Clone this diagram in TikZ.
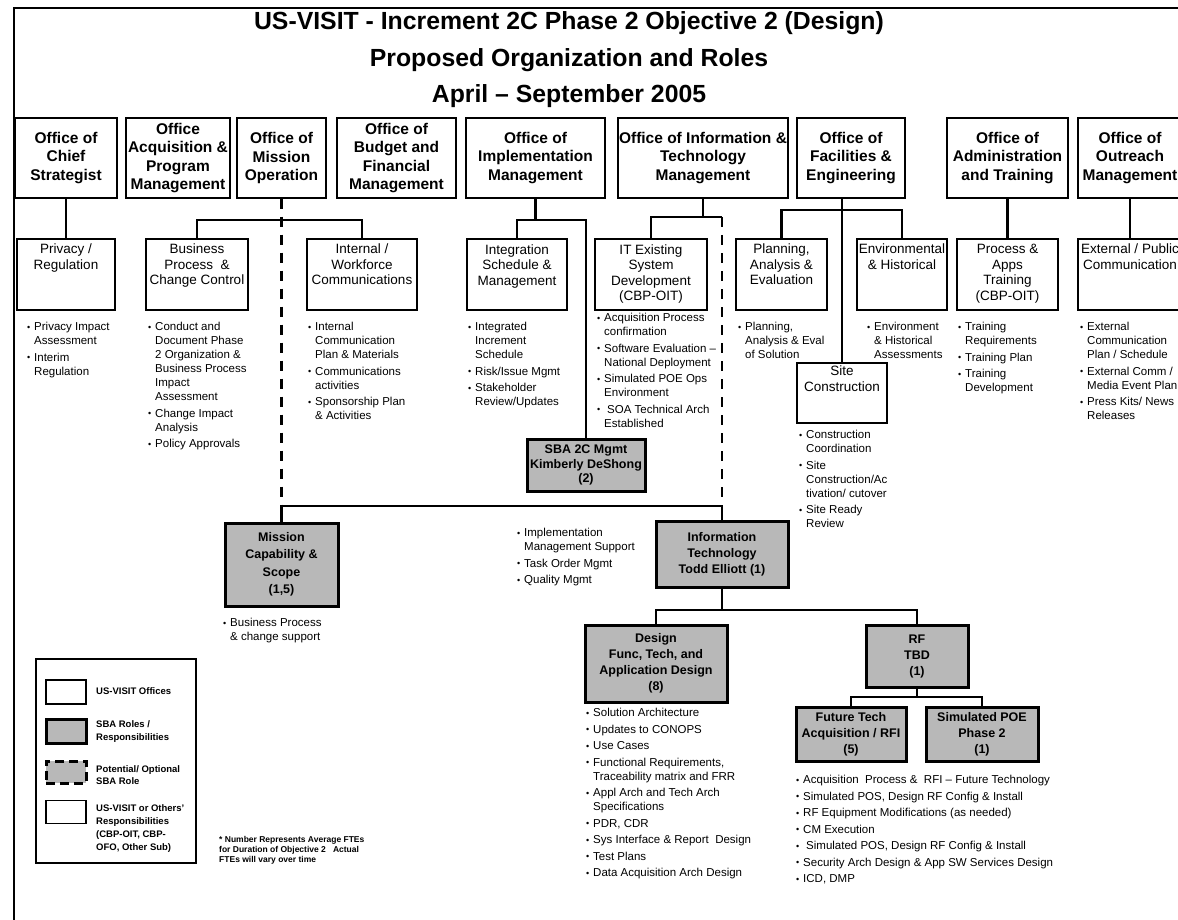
\documentclass[tikz,border=0pt]{standalone}
\usepackage{fontspec}
\setmainfont{Liberation Sans}
\newcommand\myb{\makebox[7pt][l]{\raisebox{0.4pt}{\fontsize{9}{9}\selectfont •}}}
\newcommand\myi{\hspace*{7pt}}
\begin{document}
\begin{tikzpicture}[x=1pt,y=-1pt,
 office/.style={draw, line width=1.3pt, inner sep=0pt, align=center, font=\fontsize{15.5}{18.5}\selectfont\bfseries},
 subbox/.style={draw, line width=2pt, inner sep=0pt},
 boxtext/.style={anchor=north, inner sep=0pt, align=center, font=\fontsize{13.5}{15.5}\selectfont},
 sba/.style={draw, line width=3pt, fill=black!28, inner sep=0pt, align=center, font=\fontsize{12.5}{16}\selectfont\bfseries},
 blist/.style={anchor=north west, inner sep=0pt, align=left, font=\fontsize{11.5}{14}\selectfont},
 legtext/.style={anchor=west, inner sep=0pt, align=left, font=\fontsize{9.5}{12.5}\selectfont\bfseries},
 conn/.style={line width=2.5pt},
 dashline/.style={line width=2.5pt, dash pattern=on 10pt off 8pt},
]
\path[use as bounding box] (0,0) rectangle (1178,920);
\clip (0,0) rectangle (1178,920);
\fill[white] (0,0) rectangle (1178,920);
% frame
\draw[line width=2pt] (14,925) -- (14,8) -- (1185,8);
% title
\node[font=\fontsize{24.8}{36.5}\selectfont\bfseries, align=center, inner sep=0pt] (title) at (569,60) {US-VISIT - Increment 2C Phase 2 Objective 2 (Design)\\Proposed Organization and Roles\\April – September 2005};

% offices
\node[office, minimum width=102pt, minimum height=80pt] (chief) at (66,158) {Office of\\Chief\\Strategist};
\node[office, minimum width=104pt, minimum height=80pt] (acq) at (178,158) {Office\\Acquisition \&\\Program\\Management};
\node[office, minimum width=89pt, minimum height=80pt] (mission) at (281.5,158) {Office of\\Mission\\Operation};
\node[office, minimum width=119pt, minimum height=80pt] (budget) at (396.5,158) {Office of\\Budget and\\Financial\\Management};
\node[office, minimum width=139pt, minimum height=80pt] (impl) at (535.5,158) {Office of\\Implementation\\Management};
\node[office, minimum width=170pt, minimum height=80pt] (infotech) at (703,158) {Office of Information \&\\Technology\\Management};
\node[office, minimum width=108pt, minimum height=80pt] (facil) at (851,158) {Office of\\Facilities \&\\Engineering};
\node[office, minimum width=121pt, minimum height=80pt] (admin) at (1007.5,158) {Office of\\Administration\\and Training};
\node[office, minimum width=104pt, minimum height=80pt] (outreach) at (1130,158) {Office of\\Outreach\\Management};

% second level boxes
\node[subbox, minimum width=98pt, minimum height=71pt] (privacy) at (66,274.5) {};
\node[boxtext] (privacyt) at ([yshift=-6pt]privacy.north) {Privacy /\\Regulation};
\node[subbox, minimum width=102pt, minimum height=71pt] (bp) at (197,274.5) {};
\node[boxtext] (bpt) at ([yshift=-6pt]bp.north) {Business\\Process\ \ \&\\Change Control};
\node[subbox, minimum width=110pt, minimum height=71pt] (internal) at (362,274.5) {};
\node[boxtext] (internalt) at ([yshift=-6pt]internal.north) {Internal /\\Workforce\\Communications};
\node[subbox, minimum width=100pt, minimum height=70pt] (integ) at (517,274.5) {};
\node[boxtext] (integt) at ([yshift=-6pt]integ.north) {Integration\\Schedule \&\\Management};
\node[subbox, minimum width=112pt, minimum height=70pt] (itexist) at (651,274.5) {};
\node[boxtext] (itexistt) at ([yshift=-6pt]itexist.north) {IT Existing\\System\\Development\\(CBP-OIT)};
\node[subbox, minimum width=91pt, minimum height=71pt] (planning) at (781.5,274.5) {};
\node[boxtext] (planningt) at ([yshift=-6pt]planning.north) {Planning,\\Analysis \&\\Evaluation};
\node[subbox, minimum width=90pt, minimum height=71pt] (environ) at (902,274.5) {};
\node[boxtext] (environt) at ([yshift=-6pt]environ.north) {Environmental\\\& Historical};
\node[subbox, minimum width=101pt, minimum height=71pt] (training) at (1007.5,274.5) {};
\node[boxtext] (trainingt) at ([yshift=-6pt]training.north) {Process \&\\Apps\\Training\\(CBP-OIT)};
\node[subbox, minimum width=104pt, minimum height=71pt] (external) at (1130,274.5) {};
\node[boxtext] (externalt) at ([yshift=-6pt]external.north) {External / Public\\Communication};
\node[subbox, minimum width=90pt, minimum height=60pt] (site) at (842,393) {};
\node[boxtext] (sitet) at ([yshift=-4pt]site.north) {Site\\Construction};

% SBA boxes
\node[sba, minimum width=118pt, minimum height=52pt, font=\fontsize{12.5}{14.5}\selectfont\bfseries] (sba2c) at (586,465) {SBA 2C Mgmt\\Kimberly DeShong\\(2)};
\node[sba, minimum width=113pt, minimum height=83pt, font=\fontsize{12.5}{17.5}\selectfont\bfseries] (mcs) at (281.5,564.5) {Mission\\Capability \&\\Scope\\(1,5)};
\node[sba, minimum width=132pt, minimum height=66pt] (itbox) at (722,554) {Information\\Technology\\Todd Elliott (1)};
\node[sba, minimum width=142pt, minimum height=77pt] (design) at (656,663.5) {Design\\Func, Tech, and\\Application Design\\(8)};
\node[sba, minimum width=102pt, minimum height=62pt] (rf) at (917,656) {RF\\TBD\\(1)};
\node[sba, minimum width=110pt, minimum height=54pt] (future) at (851,734) {Future Tech\\Acquisition / RFI\\(5)};
\node[sba, minimum width=112pt, minimum height=54pt] (simpoe) at (982,734) {Simulated POE\\Phase 2\\(1)};

% connectors
\coordinate (ya) at (0,220);
\coordinate (yb) at (0,217);
\coordinate (yc) at (0,210);
\coordinate (hbar) at (0,506);
\coordinate (yd) at (0,610);
\coordinate (ye) at (0,697);
\draw[conn] (chief.south) -- (privacy.north);
\draw[dashline] (mission.south) -- (mission.south |- hbar);
\draw[conn] (bp.north) |- (internal.north |- ya) -- (internal.north);
\draw[conn] (impl.south) -- (impl.south |- ya);
\draw[conn] (integ.north) |- (sba2c.north |- ya) -- (sba2c.north);
\draw[conn] (infotech.south) -- (infotech.south |- yb);
\draw[conn] (itexist.north) |- (itbox.north |- yb);
\draw[dashline] (itbox.north |- yb) -- (itbox.north |- hbar);
\draw[conn] (mcs.north) -- (mcs.north |- hbar) -- (itbox.north |- hbar) -- (itbox.north);
\draw[conn] (site.north |- facil.south) -- (site.north);
\draw[conn] (planning.north) |- (environ.north |- yc) -- (environ.north);
\draw[conn] (admin.south) -- (training.north);
\draw[conn] (outreach.south) -- (external.north);
\draw[conn] (itbox.south) -- (itbox.south |- yd);
\draw[conn] (design.north) |- (rf.north |- yd) -- (rf.north);
\draw[conn] (rf.south) -- (rf.south |- ye);
\draw[conn] (future.north) |- (simpoe.north |- ye) -- (simpoe.north);

% bullet lists
\node[blist] (privl) at (27,322) {\myb Privacy Impact\\\myi Assessment\\[2.5pt]\myb Interim\\\myi Regulation};
\node[blist] (bpl) at (148,322) {\myb Conduct and\\\myi Document Phase\\\myi 2 Organization \&\\\myi Business Process\\\myi Impact\\\myi Assessment\\[2.5pt]\myb Change Impact\\\myi Analysis\\[2.5pt]\myb Policy Approvals};
\node[blist] (internall) at (308,322) {\myb Internal\\\myi Communication\\\myi Plan \& Materials\\[2.5pt]\myb Communications\\\myi activities\\[2.5pt]\myb Sponsorship Plan\\\myi \& Activities};
\node[blist] (integl) at (468,322) {\myb Integrated\\\myi Increment\\\myi Schedule\\[2.5pt]\myb Risk/Issue Mgmt\\[2.5pt]\myb Stakeholder\\\myi Review/Updates};
\node[blist] (itexistl) at (597,313) {\myb Acquisition Process\\\myi confirmation\\[2.5pt]\myb Software Evaluation –\\\myi National Deployment\\[2.5pt]\myb Simulated POE Ops\\\myi Environment\\[2.5pt]\myb\hspace{3pt}SOA Technical Arch\\\myi Established};
\node[blist] (planningl) at (738,322) {\myb Planning,\\\myi Analysis \& Eval\\\myi of Solution};
\node[blist] (environl) at (867,322) {\myb Environment\\\myi \& Historical\\\myi Assessments};
\node[blist] (trainingl) at (958,322) {\myb Training\\\myi Requirements\\[2.5pt]\myb Training Plan\\[2.5pt]\myb Training\\\myi Development};
\node[blist] (externall) at (1080,322) {\myb External\\\myi Communication\\\myi Plan / Schedule\\[2.5pt]\myb External Comm /\\\myi Media Event Plan\\[2.5pt]\myb Press Kits/ News\\\myi Releases};
\node[blist] (sitel) at (799,430) {\myb Construction\\\myi Coordination\\[2.5pt]\myb Site\\\myi Construction/Ac\\\myi tivation/ cutover\\[2.5pt]\myb Site Ready\\\myi Review};
\node[blist] (impll) at (517,528) {\myb Implementation\\\myi Management Support\\[2.5pt]\myb Task Order Mgmt\\[2.5pt]\myb Quality Mgmt};
\node[blist] (mcsl) at (223,618) {\myb Business Process\\\myi \& change support};
\node[blist] (designl) at (586,708) {\myb Solution Architecture\\[2.5pt]\myb Updates to CONOPS\\[2.5pt]\myb Use Cases\\[2.5pt]\myb Functional Requirements,\\\myi Traceability matrix and FRR\\[2.5pt]\myb Appl Arch and Tech Arch\\\myi Specifications\\[2.5pt]\myb PDR, CDR\\[2.5pt]\myb Sys Interface \& Report\ \ Design\\[2.5pt]\myb Test Plans\\[2.5pt]\myb Data Acquisition Arch Design};
\node[blist] (rfl) at (796,775) {\myb Acquisition\ \ Process \&\ \ RFI – Future Technology\\[2.5pt]\myb Simulated POS, Design RF Config \& Install\\[2.5pt]\myb RF Equipment Modifications (as needed)\\[2.5pt]\myb CM Execution\\[2.5pt]\myb\hspace{3pt}Simulated POS, Design RF Config \& Install\\[2.5pt]\myb Security Arch Design \& App SW Services Design\\[2.5pt]\myb ICD, DMP};

% legend
\node[draw, line width=1.3pt, minimum width=160pt, minimum height=204pt, inner sep=0pt] (legend) at (116,761) {};
\node[draw, line width=1.5pt, minimum width=40pt, minimum height=24pt, inner sep=0pt] (lg1) at (66,692) {};
\node[legtext] (lg1t) at (96,691) {US-VISIT Offices};
\node[draw, line width=3pt, fill=black!28, minimum width=40pt, minimum height=24pt, inner sep=0pt] (lg2) at (66,731) {};
\node[legtext] (lg2t) at (96,731.5) {SBA Roles /\\Responsibilities};
\node[draw, line width=3pt, fill=black!28, dash pattern=on 9pt off 5pt, minimum width=40pt, minimum height=22pt, inner sep=0pt] (lg3) at (66,772) {};
\node[legtext] (lg3t) at (96,775) {Potential/ Optional\\SBA Role};
\node[draw, line width=1.3pt, minimum width=40pt, minimum height=23pt, inner sep=0pt] (lg4) at (66,812) {};
\node[legtext, anchor=north west, font=\fontsize{9.5}{13}\selectfont\bfseries] (lg4t) at (96,804) {US-VISIT or Others'\\Responsibilities\\(CBP-OIT, CBP-\\OFO, Other Sub)};
\node[anchor=north west, inner sep=0pt, align=left, font=\fontsize{8.5}{10}\selectfont\bfseries] (foot) at (219,836) {* Number Represents Average FTEs\\for Duration of Objective 2\ \ \ Actual\\FTEs will vary over time};
\end{tikzpicture}
\end{document}
